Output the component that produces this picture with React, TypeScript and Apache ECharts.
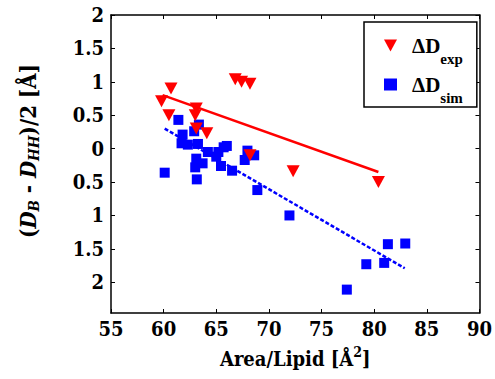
import React, { useEffect, useRef } from 'react';
import * as echarts from 'echarts';

const expX = [59.8, 60.7, 60.5, 63.1, 63.0, 63.1, 64.1, 66.8, 67.4, 68.2, 68.2, 72.3, 80.4];
const expY = [0.71, 0.9, 0.5, 0.6, 0.5, 0.3, 0.23, 1.04, 1.0, 0.97, -0.1, -0.34, -0.5];
const simX = [60.1, 61.4, 61.8, 61.7, 62.3, 62.9, 63.35, 63.26, 63.1, 63.0, 63.7, 63.15, 64.2, 65.0, 65.2, 65.45, 65.7, 66.0, 66.5, 67.96, 67.7, 68.6, 68.9, 71.95, 77.4, 79.25, 80.95, 81.3, 82.95];
const simY = [-0.36, 0.43, 0.21, 0.08, 0.06, 0.26, 0.36, 0.07, -0.15, -0.28, -0.22, -0.46, -0.05, -0.12, -0.05, -0.26, 0.02, 0.04, -0.33, -0.03, -0.17, -0.1, -0.62, -1.0, -2.11, -1.73, -1.71, -1.43, -1.42];
const expFitX = [59.9, 80.4];
const expFitY = [0.8, -0.35];
const simFitX = [60.1, 82.9];
const simFitY = [0.3, -1.79];
const xTicks = [55, 60, 65, 70, 75, 80, 85, 90];
const yTicks = [-2, -1.5, -1, -0.5, 0, 0.5, 1, 1.5, 2];
const seriesNames = ['ΔDexp', 'ΔDsim'];
const legendSubs = ['exp', 'sim'];

const F = "'DejaVu Serif Condensed', 'DejaVu Serif', serif";
const LF = "'Liberation Serif', 'Times New Roman', serif";
const DOWN_TRI = 'path://M0,0L12,0L6,11Z';

export default function App() {
  const ref = useRef<HTMLDivElement>(null);
  useEffect(() => {
    if (!ref.current) return;
    const chart = echarts.init(ref.current, null, { renderer: 'svg' });
    const zip = (xs: number[], ys: number[]) => xs.map((x, i) => [x, ys[i]]);
    const axisLine = { show: true, onZero: false, lineStyle: { color: '#000', width: 1.5 } };
    chart.setOption({
      animation: false,
      backgroundColor: '#fff',
      grid: { left: 101, right: 14, top: 15, bottom: 66, containLabel: false },
      legend: {
        orient: 'vertical',
        left: 364,
        top: 22,
        padding: [3, 14, 2, 20],
        itemGap: -2,
        itemWidth: 13,
        itemHeight: 12,
        borderColor: '#000',
        borderWidth: 1.5,
        backgroundColor: '#fff',
        data: [
          { name: seriesNames[0], icon: DOWN_TRI },
          { name: seriesNames[1], icon: 'rect' },
        ],
        formatter: (name: string) => `{a|ΔD}{b|${legendSubs[seriesNames.indexOf(name)]}}`,
        textStyle: {
          rich: {
            a: { fontFamily: LF, fontWeight: 'bold', fontSize: 21, color: '#000', lineHeight: 22, verticalAlign: 'middle', padding: [0, 0, 0, 10] },
            b: { fontFamily: LF, fontWeight: 'bold', fontSize: 15, color: '#000', lineHeight: 14, verticalAlign: 'middle', padding: [26, 0, 0, 0] },
          },
        },
      },
      xAxis: [
        {
          type: 'value', min: 55, max: 90, interval: 5, position: 'bottom',
          axisLine, splitLine: { show: false },
          axisTick: { inside: true, length: 4, lineStyle: { color: '#000', width: 1 }, customValues: xTicks },
          axisLabel: { margin: 6, color: '#000', fontFamily: F, fontWeight: 'bold', fontSize: 20, customValues: xTicks },
          name: '{a|Area/Lipid [Å}{s|2}{a|]}',
          nameLocation: 'middle',
          nameGap: 32,
          nameTextStyle: {
            rich: {
              a: { fontFamily: F, fontWeight: 'bold', fontSize: 20, color: '#000', lineHeight: 24, verticalAlign: 'bottom' },
              s: { fontFamily: F, fontWeight: 'bold', fontSize: 14, color: '#000', lineHeight: 14, verticalAlign: 'top' },
            },
          },
        },
        {
          type: 'value', min: 55, max: 90, interval: 5, position: 'top',
          axisLine, splitLine: { show: false },
          axisTick: { inside: true, length: 4, lineStyle: { color: '#000', width: 1 } },
          axisLabel: { show: false },
        },
      ],
      yAxis: [
        {
          type: 'value', min: -2.46, max: 2, position: 'left',
          axisLine, splitLine: { show: false },
          axisTick: { inside: true, length: 4, lineStyle: { color: '#000', width: 1 }, customValues: yTicks },
          axisLabel: {
            margin: 7, color: '#000', fontFamily: F, fontWeight: 'bold', fontSize: 20, customValues: yTicks,
            formatter: (v: number) => String(Math.abs(v)),
          },
          name: '{p|(}{d|D}{s|B}{p| - }{d|D}{s|HH}{p|)/2 [Å]}',
          nameLocation: 'middle',
          nameRotate: 90,
          nameGap: 70,
          nameTextStyle: {
            padding: [0, 0, 0, 26],
            rich: {
              p: { fontFamily: F, fontWeight: 'bold', fontSize: 22, color: '#000', lineHeight: 24, verticalAlign: 'top' },
              d: { fontFamily: F, fontWeight: 'bold', fontStyle: 'italic', fontSize: 22, color: '#000', lineHeight: 24, verticalAlign: 'top' },
              s: { fontFamily: F, fontWeight: 'bold', fontStyle: 'italic', fontSize: 15, color: '#000', lineHeight: 14, verticalAlign: 'bottom', padding: [18, 0, 0, 0] },
            },
          },
        },
        {
          type: 'value', min: -2.46, max: 2, position: 'right',
          axisLine, splitLine: { show: false },
          axisTick: { inside: true, length: 4, lineStyle: { color: '#000', width: 1 }, customValues: yTicks },
          axisLabel: { show: false },
        },
      ],
      series: [
        {
          name: 'fitExp', type: 'line', data: zip(expFitX, expFitY), symbol: 'none',
          lineStyle: { color: '#ff0000', width: 2.5 }, z: 2,
        },
        {
          name: 'fitSim', type: 'line', data: zip(simFitX, simFitY), symbol: 'none',
          lineStyle: { color: '#0000ff', width: 2.5, type: [4, 2] }, z: 4,
        },
        {
          name: seriesNames[1], type: 'scatter', data: zip(simX, simY), symbol: 'rect', symbolSize: 10,
          itemStyle: { color: '#0000ff', opacity: 1 }, z: 3,
        },
        {
          name: seriesNames[0], type: 'scatter', data: zip(expX, expY), symbol: DOWN_TRI,
          symbolSize: [13, 12], itemStyle: { color: '#ff0000', opacity: 1 }, z: 5,
        },
      ],
    });
    return () => chart.dispose();
  }, []);
  return <div ref={ref} style={{ width: 495, height: 379, position: 'absolute', left: 0, top: 0 }} />;
}
